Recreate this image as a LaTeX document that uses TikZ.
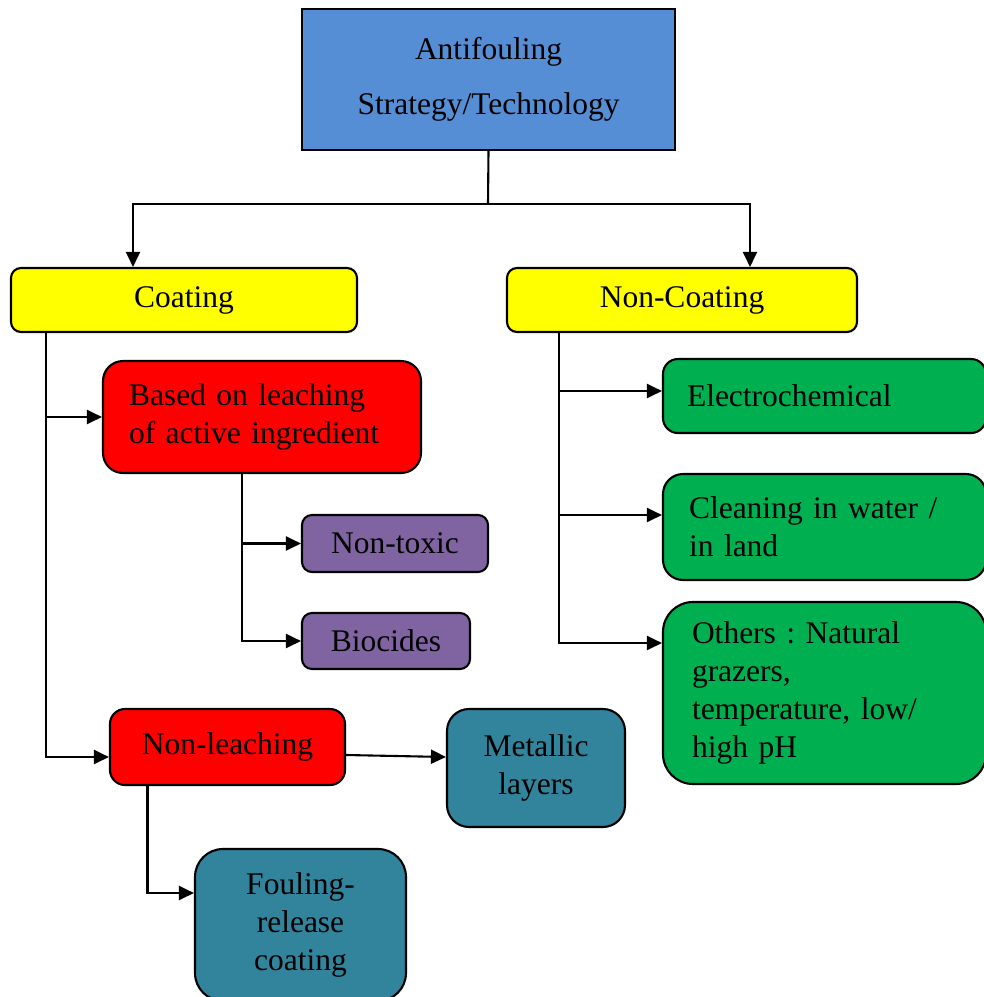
\documentclass[tikz,border=0pt]{standalone}
\usepackage{fontspec}
\setmainfont{Liberation Serif}
\usetikzlibrary{positioning, arrows.meta}
\definecolor{rootBlue}{HTML}{558ED5}
\definecolor{leachRed}{HTML}{FF0000}
\definecolor{typeYellow}{HTML}{FFFF00}
\definecolor{subPurple}{HTML}{8064A2}
\definecolor{layerTeal}{HTML}{31849B}
\definecolor{methodGreen}{HTML}{00B050}
\frenchspacing
\tikzset{%
  % Specifications for style of nodes:
            base/.style = {rectangle, rounded corners=10pt, draw=black,
                           inner sep=0pt, align=center,
                           font=\fontsize{31.5}{38}\selectfont},
            rootBox/.style = {base, sharp corners, fill=rootBlue,
                           minimum width=373pt, minimum height=141pt,
                           font=\fontsize{31.5}{55}\selectfont},
            typeBox/.style = {base, fill=typeYellow, minimum height=64pt},
            leachBox/.style = {base, fill=leachRed},
            subBox/.style = {base, fill=subPurple, minimum height=57pt},
            layerBox/.style = {base, fill=layerTeal},
            methodBox/.style = {base, fill=methodGreen, align=left,
                           minimum width=323pt},
 }

\begin{document}
\begin{tikzpicture}[x=1pt, y=-1pt, line width=2.1pt,
    >={Triangle[length=15pt, width=14pt]}]
  \useasboundingbox (0,0) rectangle (984,997);
  \clip (0,0) rectangle (984,997);
  % Specification of nodes (position, etc.)
     \node (root) [rootBox] at (488.5,79.5) {Antifouling\\Strategy/Technology};

     \node (coating) [typeBox, minimum width=346pt] at (184,300) {Coating};
     \node (nonCoating) [typeBox, minimum width=350pt] at (682,300) {Non-Coating};

     \node (leaching) [leachBox, rounded corners=20pt, minimum width=318pt, minimum height=112pt,
                       align=left, text width=266pt, inner xsep=26pt] at (262,417)
                       {Based on leaching\\of active ingredient};
     \node (nonToxic) [subBox, minimum width=186pt] at (395,543.5) {Non-toxic};
     \node (biocides) [subBox, minimum width=168pt, minimum height=56pt] at (386,641) {Biocides};

     \node (nonLeaching) [leachBox, rounded corners=15pt, minimum width=235pt,
                          minimum height=76pt] at (227.5,747) {Non-leaching};
     \node (metallic) [layerBox, rounded corners=22pt, minimum width=178pt,
                       minimum height=118pt] at (536,768) {Metallic\\layers};
     \node (foulRelease) [layerBox, rounded corners=28pt, minimum width=211pt,
                          minimum height=152pt] at (300.5,925) {Fouling-\\release\\coating};

     \node (electro) [methodBox, rounded corners=15pt, minimum height=74pt,
                      text width=275pt, inner xsep=24pt] at (824.5,396) {Electrochemical};
     \node (cleaning) [methodBox, rounded corners=20pt, minimum height=106pt,
                       text width=271pt, inner xsep=26pt] at (824.5,527)
                       {Cleaning in water /\\in land};
     \node (others) [methodBox, rounded corners=30pt, minimum height=182pt,
                     text width=265pt, inner xsep=29pt] at (824.5,693)
                     {Others : Natural\\grazers,\\temperature, low/\\high pH};

     \coordinate (split) at (488,204);
     \coordinate (coatTrunk) at ([xshift=36pt]coating.south west);
     \coordinate (leachTrunk) at ([xshift=-20pt]leaching.south);
     \coordinate (nonCoatTrunk) at ([xshift=53pt]nonCoating.south west);

     \draw (root.south) -- (split);
     \draw[->] (split) -| ([xshift=-51pt]coating.north);
     \draw[->] (split) -| ([xshift=68pt]nonCoating.north);

     \draw[->] (coatTrunk) |- (leaching.west);
     \draw[->] (coatTrunk) |- ([yshift=-10pt]nonLeaching.west);

     \draw[->] (leachTrunk) |- (nonToxic.west);
     \draw[->] (leachTrunk) |- (biocides.west);

     \draw[->] ([yshift=-8pt]nonLeaching.east) -- ([yshift=11pt]metallic.west);
     \draw[->] ([xshift=-80pt]nonLeaching.south) |- ([yshift=32pt]foulRelease.west);

     \draw[->] (nonCoatTrunk) |- ([yshift=5pt]electro.west);
     \draw[->] (nonCoatTrunk) |- ([yshift=12pt]cleaning.west);
     \draw[->] (nonCoatTrunk) |- ([yshift=50pt]others.west);

   \end{tikzpicture}
\end{document}
